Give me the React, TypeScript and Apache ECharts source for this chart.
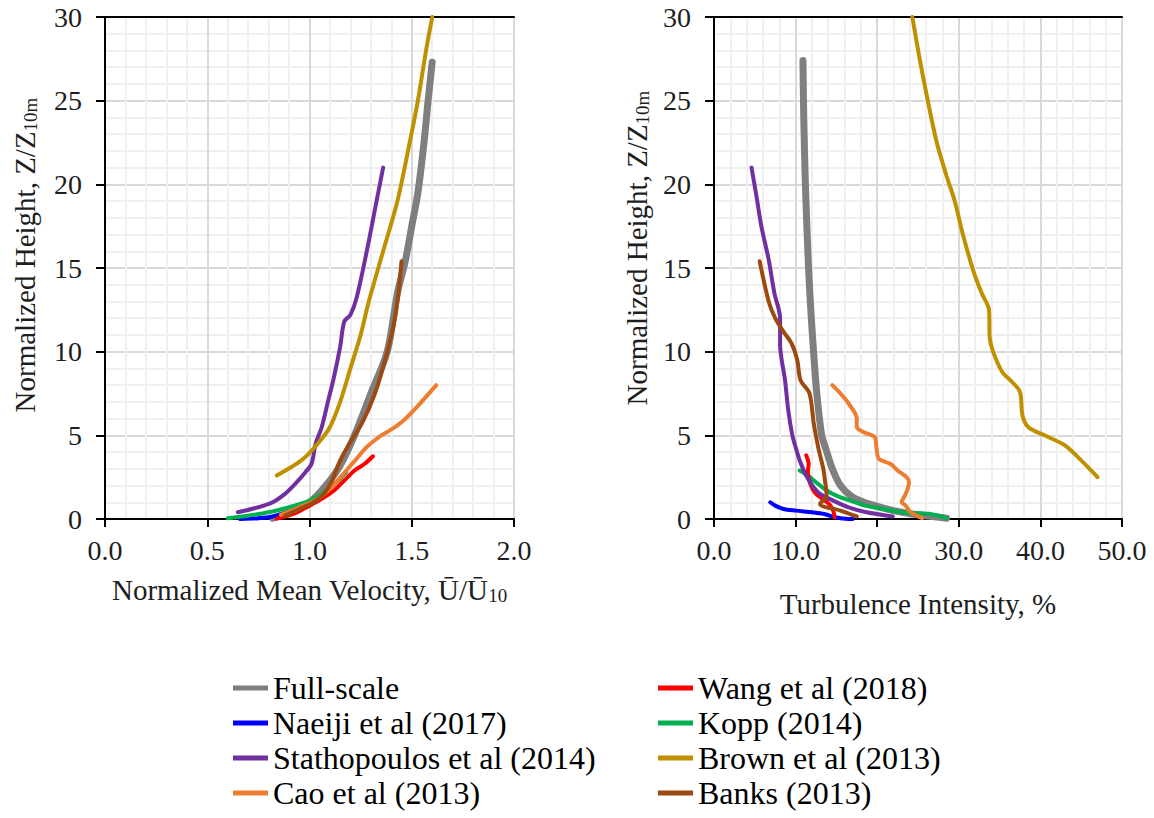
import React, { useEffect, useRef } from "react";
import * as echarts from "echarts";

type Pt = [number, number];

// ---- Normalized mean velocity profiles [U/U10, Z/Z10m] ----
const fullScaleVelocity: Pt[] = [[0.82,0.05],[0.9,0.4],[1.0,1.0],[1.08,2.0],[1.15,3.2],[1.22,5.0],[1.3,7.5],[1.38,10.0],[1.43,13.5],[1.47,15.5],[1.5,17.5],[1.53,19.5],[1.56,22.5],[1.58,25.0],[1.6,27.3]];
const wangVelocity: Pt[] = [[0.84,0.02],[0.92,0.3],[1.0,0.8],[1.06,1.2],[1.12,1.7],[1.17,2.3],[1.22,2.9],[1.27,3.3],[1.31,3.75]];
const naeijiVelocity: Pt[] = [[0.66,0.0],[0.75,0.05],[0.82,0.15],[0.88,0.35],[0.93,0.6],[0.98,0.9]];
const koppVelocity: Pt[] = [[0.6,0.05],[0.7,0.2],[0.8,0.4],[0.9,0.7],[1.0,1.1],[1.06,1.5],[1.1,1.9],[1.14,2.3],[1.18,2.8]];
const stathopoulosVelocity: Pt[] = [[0.65,0.4],[0.75,0.7],[0.82,1.0],[0.88,1.5],[0.93,2.1],[0.98,2.8],[1.01,3.3],[1.03,4.5],[1.06,5.5],[1.09,7.0],[1.12,8.5],[1.15,10.3],[1.17,11.8],[1.2,12.2],[1.23,13.2],[1.28,16.0],[1.32,18.5],[1.36,21.0]];
const brownVelocity: Pt[] = [[0.84,2.6],[0.96,3.5],[1.04,4.5],[1.1,5.5],[1.15,7.0],[1.2,9.0],[1.25,11.0],[1.29,13.0],[1.36,16.0],[1.43,19.0],[1.49,22.5],[1.53,25.0],[1.57,28.0],[1.6,30.0]];
const caoVelocity: Pt[] = [[0.86,0.25],[0.95,0.7],[1.04,1.2],[1.1,1.8],[1.18,2.9],[1.23,3.6],[1.28,4.3],[1.34,4.9],[1.38,5.2],[1.43,5.6],[1.47,6.0],[1.54,6.9],[1.62,8.0]];
const banksVelocity: Pt[] = [[0.88,0.2],[0.95,0.6],[1.02,1.0],[1.07,1.5],[1.11,2.3],[1.15,3.5],[1.2,4.6],[1.26,5.8],[1.32,7.5],[1.37,9.5],[1.41,11.5],[1.43,13.0],[1.45,15.4]];

// ---- Turbulence intensity profiles [TI %, Z/Z10m] ----
const fullScaleTI: Pt[] = [[28.5,0.05],[25,0.25],[22,0.5],[19,0.9],[17,1.3],[15.5,2.0],[14.5,3.0],[13.7,4.2],[13.2,5.0],[12.6,7.5],[12.2,10.0],[11.8,13.0],[11.5,16.0],[11.2,20.0],[11.0,24.0],[10.9,27.4]];
const wangTI: Pt[] = [[14.8,0.1],[14.6,0.5],[14.2,0.85],[13.3,1.2],[12.4,1.55],[11.8,2.1],[11.5,2.8],[11.6,3.3],[11.3,3.8]];
const naeijiTI: Pt[] = [[6.9,1.0],[7.5,0.8],[8.5,0.6],[10.0,0.5],[12.0,0.4],[13.5,0.3],[14.5,0.15],[15.5,0.05],[17.0,0.0]];
const koppTI: Pt[] = [[10.5,2.9],[11.5,2.6],[12.5,2.2],[13.8,1.7],[15.2,1.35],[16.7,1.1],[18.5,0.8],[20.7,0.6],[23.0,0.4],[25.0,0.35],[26.5,0.3],[27.5,0.2],[28.5,0.05]];
const stathopoulosTI: Pt[] = [[21.9,0.15],[18.7,0.4],[16.5,0.7],[14.6,1.1],[13.0,1.5],[12.2,1.9],[11.3,2.6],[10.5,3.5],[10.0,4.3],[9.6,5.0],[9.1,6.5],[8.7,8.3],[8.3,9.5],[8.1,10.4],[8.1,12.0],[7.4,13.5],[6.7,15.5],[5.8,17.5],[5.2,19.3],[4.6,21.0]];
const brownTI: Pt[] = [[47.0,2.5],[45.0,3.5],[43.0,4.4],[40.5,5.0],[38.5,5.5],[37.8,6.2],[37.5,7.6],[36.5,8.2],[35.3,8.8],[34.2,10.0],[33.8,10.8],[33.7,12.5],[32.8,13.5],[31.8,14.8],[30.5,17.0],[29.5,19.0],[28.5,20.5],[27.3,22.5],[26.2,25.0],[25.2,27.5],[24.3,30.0]];
const caoTI: Pt[] = [[25.5,0.05],[24.0,0.45],[23.5,0.8],[23.0,1.0],[23.5,1.5],[23.9,2.2],[23.6,2.5],[22.5,2.9],[21.6,3.3],[20.2,3.6],[19.9,4.3],[19.7,4.9],[18.3,5.2],[17.5,5.5],[17.5,6.0],[16.5,6.9],[15.5,7.5],[14.5,8.0]];
const banksTI: Pt[] = [[17.5,0.15],[15.5,0.5],[13.0,0.9],[13.8,1.4],[13.6,2.3],[13.4,3.0],[12.9,4.0],[12.6,4.7],[12.2,5.8],[11.7,7.5],[10.6,8.3],[10.2,9.5],[9.5,10.5],[8.5,11.2],[7.5,12.0],[6.7,13.0],[5.6,15.4]];

const legendLeft = ["Full-scale", "Naeiji et al (2017)", "Stathopoulos et al (2014)", "Cao et al (2013)"];
const legendRight = ["Wang et al (2018)", "Kopp (2014)", "Brown et al (2013)", "Banks (2013)"];

const SERIF = "Liberation Serif";
const TEXT = "#1e1e1e";

const specs = [
  { name: "Full-scale", color: "#7f7f7f", width: 7, vel: fullScaleVelocity, ti: fullScaleTI },
  { name: "Naeiji et al (2017)", color: "#0000ff", width: 4, vel: naeijiVelocity, ti: naeijiTI },
  { name: "Kopp (2014)", color: "#00b050", width: 4, vel: koppVelocity, ti: koppTI },
  { name: "Wang et al (2018)", color: "#ff0000", width: 4, vel: wangVelocity, ti: wangTI },
  { name: "Cao et al (2013)", color: "#ed7d31", width: 4, vel: caoVelocity, ti: caoTI },
  { name: "Stathopoulos et al (2014)", color: "#7030a0", width: 4, vel: stathopoulosVelocity, ti: stathopoulosTI },
  { name: "Brown et al (2013)", color: "#bf9000", width: 4, vel: brownVelocity, ti: brownTI },
  { name: "Banks (2013)", color: "#9c4a12", width: 4, vel: banksVelocity, ti: banksTI },
];

const subRich = {
  sub: { fontSize: 19, fontFamily: SERIF, color: TEXT, verticalAlign: "bottom", lineHeight: 30 },
  main: { fontSize: 29, fontFamily: SERIF, color: TEXT, lineHeight: 30 },
};

function valueX(gridIndex: number, max: number, interval: number, decimals: number, name: string, nameGap: number) {
  return {
    type: "value",
    gridIndex,
    min: 0,
    max,
    interval,
    name,
    nameLocation: "middle",
    nameGap,
    nameTextStyle: { fontSize: 29, fontFamily: SERIF, color: TEXT, rich: subRich },
    axisLine: { show: true, onZero: false, lineStyle: { color: "#000", width: 2 } },
    axisTick: { show: true, inside: false, length: 8, lineStyle: { color: "#000", width: 2 } },
    axisLabel: {
      margin: 17,
      fontSize: 28,
      fontFamily: SERIF,
      color: TEXT,
      formatter: (v: number) => v.toFixed(decimals),
    },
    splitLine: { show: true, lineStyle: { color: "#d9d9d9", width: 2 } },
    minorTick: { show: false, splitNumber: 5 },
    minorSplitLine: { show: true, lineStyle: { color: "#f0f0f0", width: 2 } },
  };
}

function topBorder(gridIndex: number, max: number) {
  return {
    type: "value",
    gridIndex,
    position: "top",
    min: 0,
    max,
    axisLine: { show: true, onZero: false, lineStyle: { color: "#000", width: 2 } },
    axisTick: { show: false },
    axisLabel: { show: false },
    splitLine: { show: false },
  };
}

function valueY(gridIndex: number, nameGap: number, shiftPad: number) {
  return {
    type: "value",
    gridIndex,
    min: 0,
    max: 30,
    interval: 5,
    name: "{main|Normalized Height, Z/Z}{sub|10m}",
    nameLocation: "middle",
    nameGap,
    nameTextStyle: { fontSize: 29, fontFamily: SERIF, color: TEXT, rich: subRich, padding: [0, 0, 0, shiftPad] },
    axisLine: { show: true, onZero: false, lineStyle: { color: "#000", width: 2 } },
    axisTick: { show: true, inside: false, length: 9, lineStyle: { color: "#000", width: 2 } },
    axisLabel: { margin: 23, fontSize: 28, fontFamily: SERIF, color: TEXT },
    splitLine: { show: true, lineStyle: { color: "#d9d9d9", width: 2 } },
    minorTick: { show: false, splitNumber: 5 },
    minorSplitLine: { show: true, lineStyle: { color: "#f0f0f0", width: 2 } },
  };
}

function legendAt(left: number, data: string[]) {
  return {
    data,
    orient: "vertical",
    left,
    top: 667,
    icon: "rect",
    itemWidth: 35,
    itemHeight: 5,
    itemGap: 3,
    selectedMode: false,
    textStyle: { fontSize: 32, fontFamily: SERIF, color: "#000", lineHeight: 32 },
  };
}

const FONT_CSS = `.chart-root svg text, .chart-root svg tspan { font-family: "Liberation Serif", "Times New Roman", serif !important; }`;

export default function App() {
  const ref = useRef<HTMLDivElement>(null);
  useEffect(() => {
    document.body.style.margin = "0";
    const chart = echarts.init(ref.current!, null, { renderer: "svg" });
    const series: any[] = [];
    specs.forEach((s, i) => {
      [0, 1].forEach((g) => {
        series.push({
          type: "line",
          name: s.name,
          xAxisIndex: g,
          yAxisIndex: g,
          data: g === 0 ? s.vel : s.ti,
          symbol: "none",
          smooth: 0.3,
          clip: true,
          z: 2 + i,
          itemStyle: { color: s.color },
          lineStyle: { color: s.color, width: s.width, cap: "round", join: "round" },
        });
      });
    });
    chart.setOption({
      animation: false,
      backgroundColor: "#fff",
      textStyle: { fontFamily: SERIF },
      grid: [
        { left: 105, top: 17, width: 409, height: 502 },
        { left: 714, top: 17, width: 408, height: 502 },
      ],
      xAxis: [
        valueX(0, 2, 0.5, 1, "{main|Normalized Mean Velocity, Ū/Ū}{sub|10}", 56),
        valueX(1, 50, 10, 1, "{main|Turbulence Intensity, %}", 70),
        topBorder(0, 2),
        topBorder(1, 50),
      ],
      yAxis: [valueY(0, 65, 26), valueY(1, 62, 40)],
      legend: [legendAt(228, legendLeft), legendAt(653, legendRight)],
      series,
    } as any);
    return () => chart.dispose();
  }, []);
  return (
    <>
      <style>{FONT_CSS}</style>
      <div className="chart-root" ref={ref} style={{ width: 1154, height: 818 }} />
    </>
  );
}
